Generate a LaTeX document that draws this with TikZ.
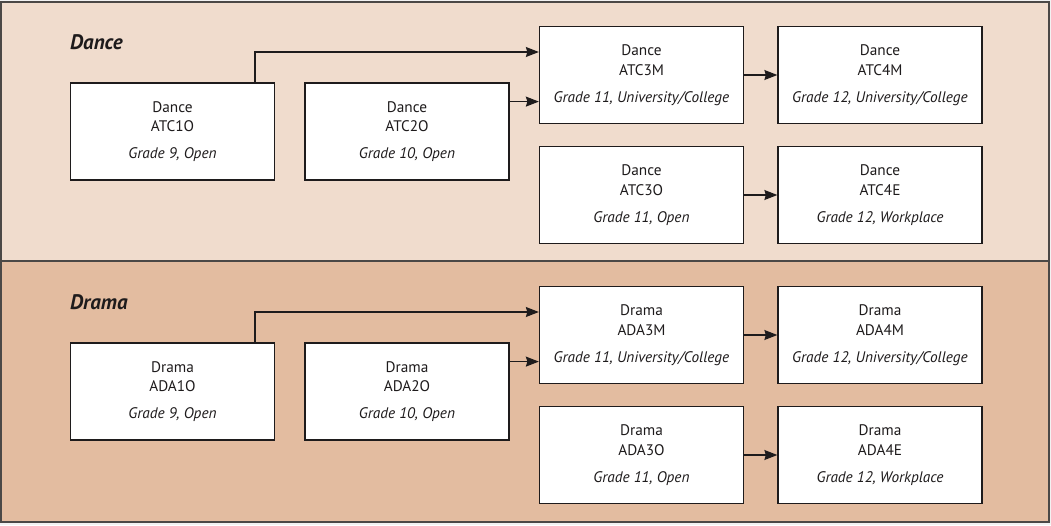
\documentclass[tikz,border=0pt]{standalone}
\usepackage{fontspec}
\setmainfont{PT Sans}
\usetikzlibrary{arrows.meta}
\definecolor{dancebg}{RGB}{240,220,205}
\definecolor{dramabg}{RGB}{227,188,160}
\definecolor{frame}{RGB}{75,72,70}
\definecolor{ink}{RGB}{30,27,28}
\tikzset{
  course/.style={draw=ink, line width=1.3pt, fill=white, minimum width=204pt, minimum height=97pt,
    inner sep=0pt, align=center, text=ink, font=\fontsize{15.3}{19.5}\selectfont},
  panel/.style={draw=frame, line width=2pt},
  title/.style={anchor=west, inner sep=0pt, text=ink, font=\fontsize{21}{25}\selectfont\bfseries\itshape},
  conn/.style={draw=ink, line width=1.2pt, -{Stealth[length=13pt,width=10pt,inset=1.5pt]}}
}
\begin{document}
\begin{tikzpicture}[x=1pt,y=-1pt]
\useasboundingbox (0,0) rectangle (1051,525);
\fill[white!95!black] (0,0) rectangle (1051,525);
% panels
\draw[panel, fill=dancebg] (1,2) rectangle (1049,261);
\draw[panel, fill=dramabg] (1,261) rectangle (1049,522);
\node[title] (tdance) at (70,42) {Dance};
\node[title] (tdrama) at (70,302) {Drama};
% Dance boxes
\node[course] (atc1o) at (172.5,131.5) {Dance\\ATC1O\\[7.5pt]\textit{Grade 9, Open}};
\node[course] (atc2o) at (407,131.5) {Dance\\ATC2O\\[7.5pt]\textit{Grade 10, Open}};
\node[course] (atc3m) at (641.5,75) {Dance\\ATC3M\\[7.5pt]\textit{Grade 11, University/College}};
\node[course] (atc4m) at (880,75) {Dance\\ATC4M\\[7.5pt]\textit{Grade 12, University/College}};
\node[course] (atc3o) at (641.5,195) {Dance\\ATC3O\\[7.5pt]\textit{Grade 11, Open}};
\node[course] (atc4e) at (880,195) {Dance\\ATC4E\\[7.5pt]\textit{Grade 12, Workplace}};
% Drama boxes
\node[course] (ada1o) at (172.5,391.5) {Drama\\ADA1O\\[7.5pt]\textit{Grade 9, Open}};
\node[course] (ada2o) at (407,391.5) {Drama\\ADA2O\\[7.5pt]\textit{Grade 10, Open}};
\node[course] (ada3m) at (641.5,335) {Drama\\ADA3M\\[7.5pt]\textit{Grade 11, University/College}};
\node[course] (ada4m) at (880,335) {Drama\\ADA4M\\[7.5pt]\textit{Grade 12, University/College}};
\node[course] (ada3o) at (641.5,455) {Drama\\ADA3O\\[7.5pt]\textit{Grade 11, Open}};
\node[course] (ada4e) at (880,455) {Drama\\ADA4E\\[7.5pt]\textit{Grade 12, Workplace}};
% routing coordinates
\coordinate (d1) at (255,52);
\coordinate (d2) at (0,101.6);
\coordinate (r1) at (255,312);
\coordinate (r2) at (0,361.6);
% Dance connectors
\draw[conn] (atc1o.north -| d1) |- (atc3m.west |- d1);
\draw[conn] (atc2o.east |- d2) -- (atc3m.west |- d2);
\draw[conn] (atc3m.east) -- (atc4m.west);
\draw[conn] (atc3o.east) -- (atc4e.west);
% Drama connectors
\draw[conn] (ada1o.north -| r1) |- (ada3m.west |- r1);
\draw[conn] (ada2o.east |- r2) -- (ada3m.west |- r2);
\draw[conn] (ada3m.east) -- (ada4m.west);
\draw[conn] (ada3o.east) -- (ada4e.west);
\end{tikzpicture}
\end{document}
